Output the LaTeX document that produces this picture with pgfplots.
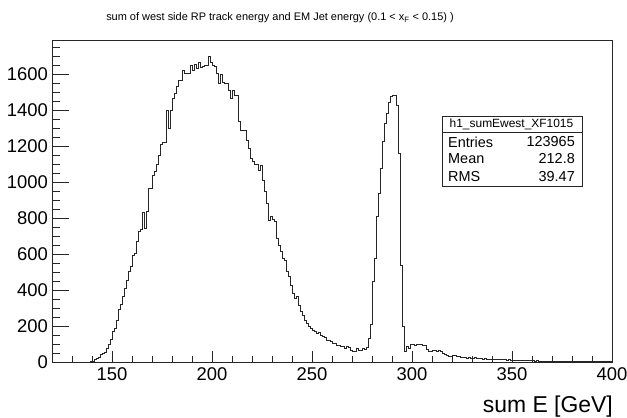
\documentclass[border=0pt]{standalone}
\usepackage{fontspec}
\setmainfont{Liberation Sans}
\usepackage{pgfplots}
\usepackage{pgfplotstable}
\pgfplotsset{compat=1.18}
\pgfplotstableread[row sep=\\]{
x y\\
120 0\\121 0\\122 0\\123 0\\124 0\\125 0\\126 0\\127 0\\128 0\\129 0\\
130 0\\131 0\\132 0\\133 0\\134 0\\135 0\\136 0\\137 0\\138 0\\139 3\\
140 5\\141 17\\142 20\\143 24\\144 42\\145 48\\146 55\\147 78\\148 98\\149 126\\
150 170\\151 188\\152 233\\153 293\\154 318\\155 363\\156 409\\157 456\\158 505\\159 533\\
160 594\\161 604\\162 669\\163 724\\164 735\\165 830\\166 745\\167 840\\168 965\\169 965\\
170 1040\\171 1057\\172 1100\\173 1150\\174 1210\\175 1220\\176 1222\\177 1400\\178 1300\\179 1400\\
180 1465\\181 1493\\182 1530\\183 1567\\184 1567\\185 1622\\186 1604\\187 1607\\188 1607\\189 1650\\
190 1622\\191 1656\\192 1631\\193 1663\\194 1637\\195 1644\\196 1650\\197 1650\\198 1700\\199 1668\\
200 1650\\201 1644\\202 1604\\203 1548\\204 1600\\205 1557\\206 1548\\207 1548\\208 1511\\209 1465\\
210 1511\\211 1483\\212 1483\\213 1335\\214 1289\\215 1289\\216 1285\\217 1233\\218 1187\\219 1131\\
220 1113\\221 1100\\222 1100\\223 1067\\224 1094\\225 1011\\226 946\\227 881\\228 789\\229 807\\
230 792\\231 779\\232 687\\233 650\\234 613\\235 576\\236 567\\237 502\\238 474\\239 428\\
240 381\\241 354\\242 363\\243 317\\244 280\\245 261\\246 233\\247 215\\248 196\\249 187\\
250 175\\251 168\\252 159\\253 163\\254 150\\255 141\\256 135\\257 122\\258 122\\259 113\\
260 104\\261 104\\262 94\\263 94\\264 85\\265 85\\266 76\\267 85\\268 80\\269 67\\
270 57\\271 57\\272 76\\273 67\\274 67\\275 76\\276 72\\277 80\\278 133\\279 207\\
280 446\\281 576\\282 807\\283 937\\284 1074\\285 1224\\286 1326\\287 1381\\288 1446\\289 1478\\
290 1483\\291 1483\\292 1428\\293 1159\\294 539\\295 196\\296 60\\297 85\\298 76\\299 100\\
300 100\\301 94\\302 100\\303 98\\304 100\\305 94\\306 94\\307 70\\308 57\\309 60\\
310 67\\311 62\\312 57\\313 67\\314 60\\315 48\\316 45\\317 39\\318 33\\319 33\\
320 39\\321 35\\322 30\\323 30\\324 26\\325 26\\326 26\\327 22\\328 24\\329 20\\
330 22\\331 24\\332 20\\333 18\\334 20\\335 17\\336 18\\337 15\\338 17\\339 15\\
340 16\\341 14\\342 15\\343 13\\344 14\\345 12\\346 13\\347 11\\348 12\\349 11\\
350 10\\351 11\\352 9\\353 10\\354 8\\355 9\\356 8\\357 9\\358 7\\359 8\\
360 7\\361 6\\362 7\\363 6\\364 5\\365 6\\366 5\\367 6\\368 4\\369 5\\
370 4\\371 5\\372 4\\373 3\\374 4\\375 3\\376 4\\377 3\\378 3\\379 4\\
380 2\\381 3\\382 3\\383 2\\384 3\\385 2\\386 2\\387 3\\388 2\\389 2\\
390 1\\391 2\\392 2\\393 1\\394 2\\395 1\\396 1\\397 2\\398 1\\399 1\\
400 1\\
}\histdata
\begin{document}
\begin{tikzpicture}
\useasboundingbox (-52bp,-56bp) rectangle (575bp,362bp);
\begin{axis}[
  at={(0,0)}, anchor=south west,
  scale only axis, width=560bp, height=322bp,
  xmin=120, xmax=400, ymin=0, ymax=1790,
  xtick={150,200,...,400}, ytick={0,200,...,1600},
  minor xtick={130,140,...,390},
  minor ytick={50,100,...,1750},
  xtick pos=bottom, ytick pos=left, tick align=inside,
  major x tick style={/pgfplots/major tick length=11bp},
  minor x tick style={/pgfplots/minor tick length=6bp},
  major y tick style={/pgfplots/major tick length=17bp},
  minor y tick style={/pgfplots/minor tick length=8bp},
  axis line style={black!85, line width=0.8bp},
  tick style={black!85, line width=0.7bp},
  ticklabel style={font=\fontsize{18.5}{20}\selectfont},
  xticklabel style={inner ysep=5bp},
  yticklabel style={inner xsep=4bp},
  /pgf/number format/assume math mode=true,
  /pgf/number format/1000 sep={},
  clip=true,
]
\addplot[const plot, black!85, line width=0.75bp] table[x=x, y=y] {\histdata};
\end{axis}
\node[font=\fontsize{11}{13}\selectfont] at (228bp,344bp) {sum of west side RP track energy and EM Jet energy (0.1 < x\textsubscript{F} < 0.15) )};
\node[font=\fontsize{23}{26}\selectfont, anchor=base east, inner sep=0pt] at (561bp,-50bp) {sum E [GeV]};
\draw[black!85, line width=0.8bp, fill=white] (390bp,176bp) rectangle (530bp,246bp);
\draw[black!85, line width=0.8bp] (390bp,230bp) -- (530bp,230bp);
\node[font=\fontsize{12}{14}\selectfont, inner sep=0pt] at (459.5bp,238bp) {h1\_sumEwest\_XF1015};
\begin{scope}[every node/.style={font=\fontsize{14.5}{16}\selectfont, inner sep=0pt}]
\node[anchor=west] at (396bp,220bp) {Entries};
\node[anchor=east] at (523bp,220bp) {123965};
\node[anchor=west] at (396bp,203bp) {Mean};
\node[anchor=east] at (523bp,203bp) {212.8};
\node[anchor=west] at (396bp,185bp) {RMS};
\node[anchor=east] at (523bp,185bp) {39.47};
\end{scope}
\end{tikzpicture}
\end{document}
